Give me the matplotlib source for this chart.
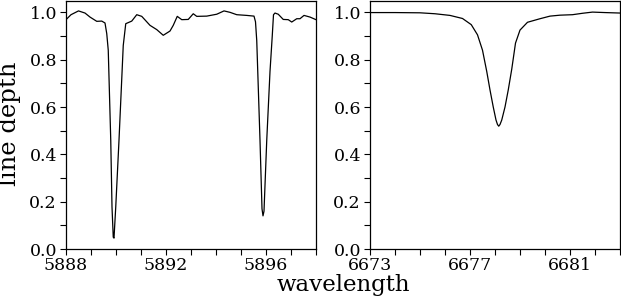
import matplotlib
matplotlib.use("Agg")
import matplotlib.pyplot as plt
from matplotlib.ticker import MultipleLocator, FormatStrFormatter

# Na D region (left panel)
na_wavelength = [5888.0, 5888.2, 5888.5, 5888.76, 5888.96, 5889.23, 5889.43, 5889.56,
                 5889.63, 5889.69, 5889.79, 5889.84, 5889.89, 5889.92, 5889.99, 5890.12,
                 5890.29, 5890.39, 5890.63, 5890.83, 5891.03, 5891.36, 5891.63, 5891.89,
                 5892.16, 5892.29, 5892.45, 5892.63, 5892.89, 5893.09, 5893.23, 5893.63,
                 5894.03, 5894.32, 5894.56, 5894.83, 5895.23, 5895.52, 5895.58, 5895.63,
                 5895.76, 5895.84, 5895.88, 5895.92, 5896.03, 5896.16, 5896.25, 5896.3,
                 5896.36, 5896.49, 5896.69, 5896.89, 5897.03, 5897.23, 5897.36, 5897.52,
                 5897.76, 5898.0]
na_depth = [0.969, 0.99, 1.006, 0.997, 0.980, 0.962, 0.963, 0.955,
            0.91, 0.84, 0.46, 0.178, 0.05, 0.046, 0.178, 0.46,
            0.86, 0.952, 0.963, 0.990, 0.983, 0.945, 0.927, 0.903,
            0.921, 0.945, 0.983, 0.969, 0.970, 0.994, 0.983, 0.984,
            0.992, 1.006, 1.000, 0.990, 0.987, 0.984, 0.96, 0.88,
            0.46, 0.17, 0.14, 0.16, 0.46, 0.75, 0.90, 0.99,
            0.997, 0.992, 0.970, 0.969, 0.959, 0.973, 0.973, 0.987,
            0.980, 0.969]

# He I 6678 region (right panel)
he_wavelength = [6673.0, 6674.0, 6675.0, 6675.6, 6676.2, 6676.7, 6677.05, 6677.3,
                 6677.5, 6677.67, 6677.8, 6677.93, 6678.04, 6678.1, 6678.15, 6678.2,
                 6678.27, 6678.4, 6678.53, 6678.67, 6678.82, 6679.0, 6679.3, 6679.8,
                 6680.2, 6680.6, 6681.1, 6681.5, 6681.9, 6682.4, 6683.0]
he_depth = [0.999, 0.999, 0.998, 0.994, 0.987, 0.974, 0.948, 0.905,
            0.84, 0.75, 0.672, 0.600, 0.545, 0.526, 0.519, 0.526,
            0.545, 0.600, 0.672, 0.76, 0.87, 0.925, 0.958, 0.973,
            0.984, 0.988, 0.990, 0.996, 1.001, 0.999, 0.997]

x_ticks_left = [5888, 5892, 5896]
x_ticks_right = [6673, 6677, 6681]
y_ticks = [0.0, 0.2, 0.4, 0.6, 0.8, 1.0]

plt.rcParams['font.family'] = ['DejaVu Serif']

W, H = 621, 296
fig = plt.figure(figsize=(W / 100, H / 100), dpi=100)

def px_axes(x0, x1, ytop, ybot):
    return [x0 / W, 1 - ybot / H, (x1 - x0) / W, (ybot - ytop) / H]

ax1 = fig.add_axes(px_axes(66, 316, 0.5, 249))
ax2 = fig.add_axes(px_axes(370, 620, 0.5, 249))

panels = [
    (ax1, na_wavelength, na_depth, (5888, 5898), x_ticks_left),
    (ax2, he_wavelength, he_depth, (6673, 6683), x_ticks_right),
]
for ax, wl, dp, xlim, xt in panels:
    ax.plot(wl, dp, color='black', lw=0.9)
    ax.set_xlim(*xlim)
    ax.set_ylim(0, 1.05)
    ax.set_xticks(xt)
    ax.xaxis.set_minor_locator(MultipleLocator(1))
    ax.set_yticks(y_ticks)
    ax.yaxis.set_major_formatter(FormatStrFormatter('%.1f'))
    ax.yaxis.set_minor_locator(MultipleLocator(0.1))
    ax.tick_params(which='both', direction='out', length=4.5, width=0.8,
                   labelsize=12.5, pad=2)
    ax.tick_params(axis='x', which='both', pad=1)
    for s in ax.spines.values():
        s.set_linewidth(0.9)

fig.text(10 / W, 1 - 124 / H, 'line depth', rotation=90, ha='center', va='center',
         fontsize=17.5)
fig.text(343 / W, 1 - 290.5 / H, 'wavelength', ha='center', va='baseline',
         fontsize=16.5)

fig.savefig('out.png', dpi=100)
